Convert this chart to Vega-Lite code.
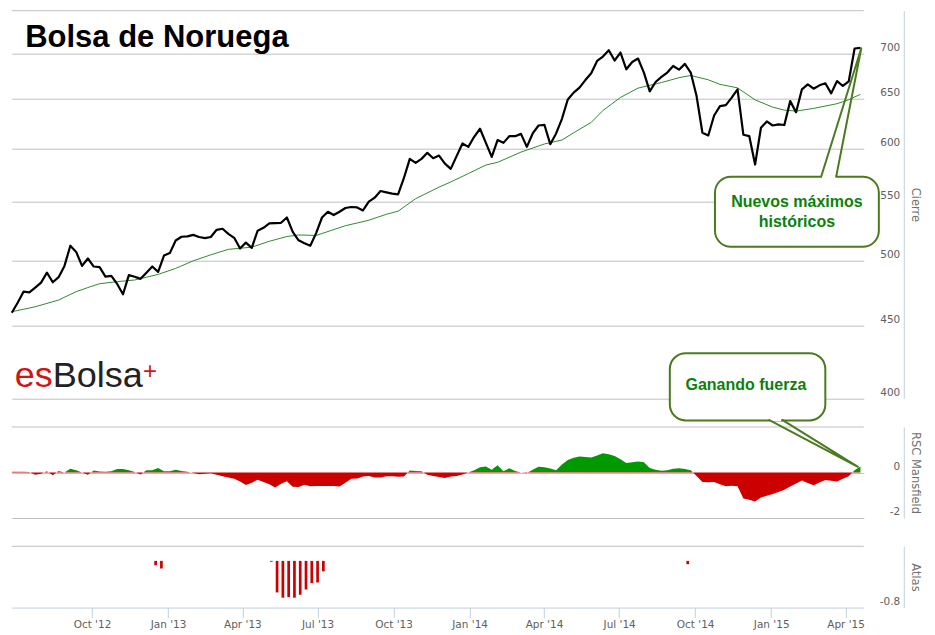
{
  "$schema": "https://vega.github.io/schema/vega-lite/v6.json",
  "background": "white",
  "padding": {"left": 9.8, "top": 9.7, "right": 6, "bottom": 0},
  "spacing": 28.3,
  "bounds": "flush",
  "config": {
    "view": {"stroke": null},
    "axis": {"labelFont": "DejaVu Sans", "titleFont": "DejaVu Sans"}
  },
  "datasets": {
    "price": [
      {"date": "2012-07-02", "close": 459.5, "rsc": 0.03},
      {"date": "2012-07-09", "close": 467.0, "rsc": 0.03},
      {"date": "2012-07-16", "close": 475.5, "rsc": 0.03},
      {"date": "2012-07-23", "close": 475.0, "rsc": 0.02},
      {"date": "2012-07-30", "close": 478.6, "rsc": -0.1},
      {"date": "2012-08-06", "close": 482.5, "rsc": -0.05},
      {"date": "2012-08-13", "close": 490.4, "rsc": 0.06},
      {"date": "2012-08-20", "close": 482.8, "rsc": -0.12},
      {"date": "2012-08-27", "close": 486.8, "rsc": 0.07},
      {"date": "2012-09-03", "close": 495.8, "rsc": 0.0},
      {"date": "2012-09-10", "close": 512.3, "rsc": 0.16},
      {"date": "2012-09-17", "close": 507.2, "rsc": 0.1},
      {"date": "2012-09-24", "close": 495.8, "rsc": 0.0},
      {"date": "2012-10-01", "close": 501.8, "rsc": -0.1},
      {"date": "2012-10-08", "close": 495.3, "rsc": 0.09},
      {"date": "2012-10-15", "close": 494.8, "rsc": 0.04},
      {"date": "2012-10-22", "close": 487.3, "rsc": 0.03},
      {"date": "2012-10-29", "close": 487.8, "rsc": 0.05},
      {"date": "2012-11-05", "close": 481.5, "rsc": 0.15},
      {"date": "2012-11-12", "close": 473.5, "rsc": 0.15},
      {"date": "2012-11-19", "close": 488.4, "rsc": 0.1},
      {"date": "2012-11-26", "close": 487.2, "rsc": 0.02},
      {"date": "2012-12-03", "close": 485.5, "rsc": -0.09},
      {"date": "2012-12-10", "close": 490.4, "rsc": 0.1},
      {"date": "2012-12-17", "close": 495.3, "rsc": 0.1},
      {"date": "2012-12-24", "close": 491.0, "rsc": 0.2},
      {"date": "2012-12-31", "close": 504.2, "rsc": 0.05},
      {"date": "2013-01-07", "close": 506.2, "rsc": 0.06},
      {"date": "2013-01-14", "close": 516.7, "rsc": 0.12},
      {"date": "2013-01-21", "close": 519.8, "rsc": 0.07},
      {"date": "2013-01-28", "close": 520.1, "rsc": 0.03},
      {"date": "2013-02-04", "close": 521.4, "rsc": -0.02},
      {"date": "2013-02-11", "close": 519.6, "rsc": -0.08},
      {"date": "2013-02-18", "close": 518.7, "rsc": -0.06},
      {"date": "2013-02-25", "close": 519.6, "rsc": -0.03},
      {"date": "2013-03-04", "close": 525.7, "rsc": -0.1},
      {"date": "2013-03-11", "close": 526.6, "rsc": -0.17},
      {"date": "2013-03-18", "close": 522.3, "rsc": -0.22},
      {"date": "2013-03-25", "close": 518.9, "rsc": -0.27},
      {"date": "2013-04-01", "close": 510.0, "rsc": -0.4},
      {"date": "2013-04-08", "close": 514.9, "rsc": -0.55},
      {"date": "2013-04-15", "close": 510.5, "rsc": -0.45},
      {"date": "2013-04-22", "close": 524.9, "rsc": -0.32},
      {"date": "2013-04-29", "close": 527.4, "rsc": -0.42},
      {"date": "2013-05-06", "close": 531.2, "rsc": -0.52},
      {"date": "2013-05-13", "close": 531.5, "rsc": -0.66},
      {"date": "2013-05-20", "close": 531.7, "rsc": -0.5},
      {"date": "2013-05-27", "close": 536.3, "rsc": -0.38},
      {"date": "2013-06-03", "close": 524.0, "rsc": -0.63},
      {"date": "2013-06-10", "close": 516.8, "rsc": -0.64},
      {"date": "2013-06-17", "close": 514.3, "rsc": -0.54},
      {"date": "2013-06-24", "close": 512.3, "rsc": -0.6},
      {"date": "2013-07-01", "close": 522.9, "rsc": -0.59},
      {"date": "2013-07-08", "close": 536.3, "rsc": -0.59},
      {"date": "2013-07-15", "close": 541.3, "rsc": -0.59},
      {"date": "2013-07-22", "close": 538.4, "rsc": -0.59},
      {"date": "2013-07-29", "close": 541.3, "rsc": -0.62},
      {"date": "2013-08-05", "close": 544.6, "rsc": -0.45},
      {"date": "2013-08-12", "close": 545.5, "rsc": -0.27},
      {"date": "2013-08-19", "close": 545.1, "rsc": -0.26},
      {"date": "2013-08-26", "close": 542.5, "rsc": -0.18},
      {"date": "2013-09-02", "close": 550.2, "rsc": -0.15},
      {"date": "2013-09-09", "close": 553.8, "rsc": -0.22},
      {"date": "2013-09-16", "close": 559.8, "rsc": -0.22},
      {"date": "2013-09-23", "close": 558.6, "rsc": -0.16},
      {"date": "2013-09-30", "close": 557.4, "rsc": -0.17},
      {"date": "2013-10-07", "close": 556.8, "rsc": -0.19},
      {"date": "2013-10-14", "close": 571.8, "rsc": -0.18},
      {"date": "2013-10-21", "close": 589.8, "rsc": 0.09},
      {"date": "2013-10-28", "close": 586.0, "rsc": 0.07},
      {"date": "2013-11-04", "close": 589.8, "rsc": 0.05},
      {"date": "2013-11-11", "close": 595.6, "rsc": -0.1},
      {"date": "2013-11-18", "close": 590.4, "rsc": -0.15},
      {"date": "2013-11-25", "close": 593.0, "rsc": -0.2},
      {"date": "2013-12-02", "close": 585.3, "rsc": -0.24},
      {"date": "2013-12-09", "close": 580.3, "rsc": -0.18},
      {"date": "2013-12-16", "close": 592.4, "rsc": -0.15},
      {"date": "2013-12-23", "close": 604.7, "rsc": -0.09},
      {"date": "2013-12-30", "close": 601.4, "rsc": 0.0},
      {"date": "2014-01-06", "close": 611.3, "rsc": 0.1},
      {"date": "2014-01-13", "close": 619.3, "rsc": 0.23},
      {"date": "2014-01-20", "close": 605.3, "rsc": 0.26},
      {"date": "2014-01-27", "close": 591.7, "rsc": 0.12},
      {"date": "2014-02-03", "close": 608.0, "rsc": 0.32},
      {"date": "2014-02-10", "close": 605.3, "rsc": 0.06},
      {"date": "2014-02-17", "close": 611.9, "rsc": 0.19},
      {"date": "2014-02-24", "close": 611.9, "rsc": 0.07},
      {"date": "2014-03-03", "close": 614.2, "rsc": 0.0},
      {"date": "2014-03-10", "close": 601.4, "rsc": -0.02},
      {"date": "2014-03-17", "close": 614.6, "rsc": 0.12},
      {"date": "2014-03-24", "close": 622.6, "rsc": 0.25},
      {"date": "2014-03-31", "close": 623.3, "rsc": 0.23},
      {"date": "2014-04-07", "close": 604.0, "rsc": 0.18},
      {"date": "2014-04-14", "close": 614.6, "rsc": 0.1},
      {"date": "2014-04-21", "close": 629.4, "rsc": 0.35},
      {"date": "2014-04-28", "close": 649.5, "rsc": 0.55},
      {"date": "2014-05-05", "close": 656.7, "rsc": 0.65},
      {"date": "2014-05-12", "close": 662.0, "rsc": 0.7},
      {"date": "2014-05-19", "close": 670.2, "rsc": 0.68},
      {"date": "2014-05-26", "close": 677.6, "rsc": 0.66},
      {"date": "2014-06-02", "close": 691.3, "rsc": 0.75},
      {"date": "2014-06-09", "close": 696.2, "rsc": 0.85},
      {"date": "2014-06-16", "close": 703.4, "rsc": 0.8},
      {"date": "2014-06-23", "close": 691.8, "rsc": 0.72},
      {"date": "2014-06-30", "close": 700.8, "rsc": 0.58},
      {"date": "2014-07-07", "close": 682.0, "rsc": 0.42},
      {"date": "2014-07-14", "close": 690.1, "rsc": 0.45},
      {"date": "2014-07-21", "close": 694.0, "rsc": 0.48},
      {"date": "2014-07-28", "close": 678.4, "rsc": 0.45},
      {"date": "2014-08-04", "close": 658.0, "rsc": 0.2},
      {"date": "2014-08-11", "close": 668.1, "rsc": 0.12},
      {"date": "2014-08-18", "close": 673.6, "rsc": 0.08},
      {"date": "2014-08-25", "close": 678.4, "rsc": 0.1},
      {"date": "2014-09-01", "close": 685.7, "rsc": 0.16},
      {"date": "2014-09-08", "close": 681.6, "rsc": 0.19},
      {"date": "2014-09-15", "close": 688.0, "rsc": 0.15},
      {"date": "2014-09-22", "close": 678.4, "rsc": 0.1},
      {"date": "2014-09-29", "close": 653.0, "rsc": -0.15},
      {"date": "2014-10-06", "close": 615.3, "rsc": -0.42},
      {"date": "2014-10-13", "close": 612.6, "rsc": -0.43},
      {"date": "2014-10-20", "close": 632.8, "rsc": -0.42},
      {"date": "2014-10-27", "close": 642.5, "rsc": -0.52},
      {"date": "2014-11-03", "close": 643.5, "rsc": -0.61},
      {"date": "2014-11-10", "close": 651.4, "rsc": -0.58},
      {"date": "2014-11-17", "close": 660.2, "rsc": -0.6},
      {"date": "2014-11-24", "close": 613.3, "rsc": -1.14},
      {"date": "2014-12-01", "close": 612.0, "rsc": -1.2},
      {"date": "2014-12-08", "close": 584.4, "rsc": -1.27},
      {"date": "2014-12-15", "close": 620.3, "rsc": -1.1},
      {"date": "2014-12-22", "close": 626.7, "rsc": -1.02},
      {"date": "2014-12-29", "close": 622.6, "rsc": -0.95},
      {"date": "2015-01-05", "close": 623.8, "rsc": -0.86},
      {"date": "2015-01-12", "close": 623.1, "rsc": -0.76},
      {"date": "2015-01-19", "close": 647.7, "rsc": -0.62},
      {"date": "2015-01-26", "close": 636.2, "rsc": -0.48},
      {"date": "2015-02-02", "close": 660.2, "rsc": -0.35},
      {"date": "2015-02-09", "close": 665.5, "rsc": -0.46},
      {"date": "2015-02-16", "close": 660.9, "rsc": -0.56},
      {"date": "2015-02-23", "close": 664.5, "rsc": -0.44},
      {"date": "2015-03-02", "close": 666.7, "rsc": -0.33},
      {"date": "2015-03-09", "close": 655.9, "rsc": -0.36},
      {"date": "2015-03-16", "close": 669.1, "rsc": -0.4},
      {"date": "2015-03-23", "close": 663.8, "rsc": -0.28},
      {"date": "2015-03-30", "close": 668.8, "rsc": -0.16},
      {"date": "2015-04-06", "close": 705.4, "rsc": 0.1},
      {"date": "2015-04-13", "close": 706.1, "rsc": 0.26}
    ],
    "ma": [
      {"date": "2012-07-02", "ma": 460.3},
      {"date": "2012-07-30", "ma": 464.0},
      {"date": "2012-08-27", "ma": 469.1},
      {"date": "2012-09-17", "ma": 475.5},
      {"date": "2012-10-01", "ma": 478.7},
      {"date": "2012-10-15", "ma": 481.7},
      {"date": "2012-11-05", "ma": 483.3},
      {"date": "2012-11-26", "ma": 484.6},
      {"date": "2012-12-10", "ma": 486.8},
      {"date": "2012-12-24", "ma": 489.0},
      {"date": "2013-01-14", "ma": 493.8},
      {"date": "2013-02-04", "ma": 499.9},
      {"date": "2013-02-25", "ma": 504.8},
      {"date": "2013-03-18", "ma": 509.3},
      {"date": "2013-04-15", "ma": 511.1},
      {"date": "2013-05-06", "ma": 516.0},
      {"date": "2013-05-27", "ma": 520.0},
      {"date": "2013-06-10", "ma": 521.3},
      {"date": "2013-07-01", "ma": 520.9},
      {"date": "2013-08-05", "ma": 529.2},
      {"date": "2013-09-02", "ma": 533.9},
      {"date": "2013-09-23", "ma": 539.1},
      {"date": "2013-10-07", "ma": 541.8},
      {"date": "2013-10-28", "ma": 552.9},
      {"date": "2013-11-25", "ma": 563.4},
      {"date": "2013-12-09", "ma": 568.1},
      {"date": "2013-12-30", "ma": 575.9},
      {"date": "2014-01-20", "ma": 583.9},
      {"date": "2014-02-03", "ma": 586.5},
      {"date": "2014-03-03", "ma": 596.3},
      {"date": "2014-03-31", "ma": 604.2},
      {"date": "2014-04-21", "ma": 608.1},
      {"date": "2014-05-05", "ma": 615.3},
      {"date": "2014-05-26", "ma": 625.7},
      {"date": "2014-06-09", "ma": 637.9},
      {"date": "2014-06-30", "ma": 651.6},
      {"date": "2014-07-21", "ma": 661.5},
      {"date": "2014-08-18", "ma": 667.5},
      {"date": "2014-09-08", "ma": 672.8},
      {"date": "2014-09-22", "ma": 675.2},
      {"date": "2014-10-13", "ma": 670.5},
      {"date": "2014-10-27", "ma": 665.5},
      {"date": "2014-11-17", "ma": 661.8},
      {"date": "2014-12-08", "ma": 649.0},
      {"date": "2014-12-29", "ma": 641.4},
      {"date": "2015-01-12", "ma": 638.3},
      {"date": "2015-01-26", "ma": 637.3},
      {"date": "2015-02-16", "ma": 640.1},
      {"date": "2015-03-16", "ma": 645.0},
      {"date": "2015-03-30", "ma": 649.2},
      {"date": "2015-04-13", "ma": 654.9}
    ],
    "atlas": [
      {"date": "2012-12-17", "atlas": -0.074},
      {"date": "2012-12-24", "atlas": -0.13},
      {"date": "2013-05-06", "atlas": -0.015},
      {"date": "2013-05-13", "atlas": -0.54},
      {"date": "2013-05-20", "atlas": -0.63},
      {"date": "2013-05-27", "atlas": -0.62},
      {"date": "2013-06-03", "atlas": -0.63},
      {"date": "2013-06-10", "atlas": -0.58},
      {"date": "2013-06-17", "atlas": -0.49},
      {"date": "2013-06-24", "atlas": -0.38},
      {"date": "2013-07-01", "atlas": -0.37},
      {"date": "2013-07-08", "atlas": -0.18},
      {"date": "2014-09-22", "atlas": -0.057}
    ]
  },
  "vconcat": [
    {
      "width": 852,
      "height": 387.6,
      "layer": [
        {
          "data": {"values": [{"level": 750}]},
          "mark": {"type": "rule", "color": "#C0C0C0", "strokeWidth": 1},
          "encoding": {
            "y": {"field": "level", "type": "quantitative", "scale": {"type": "log", "domain": [400, 750], "nice": false, "zero": false}}
          }
        },
        {
          "data": {"name": "ma"},
          "mark": {"type": "line", "color": "#2E8B2E", "strokeWidth": 1, "strokeJoin": "round"},
          "encoding": {
            "x": {"field": "date", "type": "temporal", "scale": {"domain": [{"year": 2012, "month": 7, "date": 2}, {"year": 2015, "month": 4, "date": 17}]}, "axis": null},
            "y": {"field": "ma", "type": "quantitative", "scale": {"type": "log", "domain": [400, 750], "nice": false, "zero": false}}
          }
        },
        {
          "data": {"name": "price"},
          "mark": {"type": "line", "color": "#000000", "strokeWidth": 2.2, "strokeJoin": "round"},
          "encoding": {
            "x": {"field": "date", "type": "temporal", "scale": {"domain": [{"year": 2012, "month": 7, "date": 2}, {"year": 2015, "month": 4, "date": 17}]}, "axis": null},
            "y": {
              "field": "close", "type": "quantitative",
              "scale": {"type": "log", "domain": [400, 750], "nice": false, "zero": false},
              "axis": {
                "orient": "right", "offset": 40, "values": [400, 450, 500, 550, 600, 650, 700],
                "labelExpr": "'' + datum.value", "title": "Cierre",
                "grid": true, "gridColor": "#C0C0C0", "ticks": false, "tickSize": 0,
                "domainColor": "#C0D0E0", "labelAlign": "right", "labelBaseline": "middle",
                "labelPadding": -4, "labelOffset": -6, "labelColor": "#606060", "labelFontSize": 10.5,
                "titleColor": "#707070", "titleFontSize": 11.5, "titleFontWeight": "normal", "titlePadding": 6
              }
            }
          }
        },
        {
          "data": {"values": [{"date": "2012-07-18", "value": 707.2, "label": "Bolsa de Noruega"}]},
          "mark": {"type": "text", "font": "Liberation Sans", "fontWeight": "bold", "fontSize": 31, "align": "left", "baseline": "alphabetic", "color": "#000000"},
          "encoding": {
            "x": {"field": "date", "type": "temporal", "scale": {"domain": [{"year": 2012, "month": 7, "date": 2}, {"year": 2015, "month": 4, "date": 17}]}, "axis": null},
            "y": {"field": "value", "type": "quantitative", "scale": {"type": "log", "domain": [400, 750], "nice": false, "zero": false}},
            "text": {"field": "label"}
          }
        },
        {
          "data": {"values": [{"date": "2012-08-20", "value": 407.4, "label": "es"}]},
          "mark": {"type": "text", "font": "Liberation Sans", "fontSize": 36, "align": "right", "baseline": "alphabetic", "color": "#D01515"},
          "encoding": {
            "x": {"field": "date", "type": "temporal", "scale": {"domain": [{"year": 2012, "month": 7, "date": 2}, {"year": 2015, "month": 4, "date": 17}]}, "axis": null},
            "y": {"field": "value", "type": "quantitative", "scale": {"type": "log", "domain": [400, 750], "nice": false, "zero": false}},
            "text": {"field": "label"}
          }
        },
        {
          "data": {"values": [{"date": "2012-08-20", "value": 407.4, "label": "Bolsa"}]},
          "mark": {"type": "text", "font": "Liberation Sans", "fontSize": 36, "align": "left", "baseline": "alphabetic", "color": "#222222"},
          "encoding": {
            "x": {"field": "date", "type": "temporal", "scale": {"domain": [{"year": 2012, "month": 7, "date": 2}, {"year": 2015, "month": 4, "date": 17}]}, "axis": null},
            "y": {"field": "value", "type": "quantitative", "scale": {"type": "log", "domain": [400, 750], "nice": false, "zero": false}},
            "text": {"field": "label"}
          }
        },
        {
          "data": {"values": [{"date": "2012-12-06", "value": 412.6, "label": "+"}]},
          "mark": {"type": "text", "font": "Liberation Sans", "fontSize": 24, "align": "left", "baseline": "alphabetic", "color": "#D01515"},
          "encoding": {
            "x": {"field": "date", "type": "temporal", "scale": {"domain": [{"year": 2012, "month": 7, "date": 2}, {"year": 2015, "month": 4, "date": 17}]}, "axis": null},
            "y": {"field": "value", "type": "quantitative", "scale": {"type": "log", "domain": [400, 750], "nice": false, "zero": false}},
            "text": {"field": "label"}
          }
        },
        {
          "data": {"values": [{"date": "2014-10-21", "date2": "2015-05-05", "value": 573.0, "value2": 511.4}]},
          "mark": {"type": "rect", "fill": "#FFFFFF", "stroke": "#4B7A1F", "strokeWidth": 2, "cornerRadius": 16},
          "encoding": {
            "x": {"field": "date", "type": "temporal", "scale": {"domain": [{"year": 2012, "month": 7, "date": 2}, {"year": 2015, "month": 4, "date": 17}]}, "axis": null},
            "x2": {"field": "date2"},
            "y": {"field": "value", "type": "quantitative", "scale": {"type": "log", "domain": [400, 750], "nice": false, "zero": false}},
            "y2": {"field": "value2"}
          }
        },
        {
          "data": {"values": [{"date": "2015-02-26", "date2": "2015-03-14", "value": 573.0}]},
          "mark": {"type": "rule", "color": "#FFFFFF", "strokeWidth": 3},
          "encoding": {
            "x": {"field": "date", "type": "temporal", "scale": {"domain": [{"year": 2012, "month": 7, "date": 2}, {"year": 2015, "month": 4, "date": 17}]}, "axis": null},
            "x2": {"field": "date2"},
            "y": {"field": "value", "type": "quantitative", "scale": {"type": "log", "domain": [400, 750], "nice": false, "zero": false}}
          }
        },
        {
          "data": {"values": [
            {"date": "2015-02-25", "value": 573.0, "k": 1},
            {"date": "2015-04-14", "value": 705.7, "k": 2},
            {"date": "2015-03-15", "value": 573.0, "k": 3}
          ]},
          "mark": {"type": "line", "color": "#4B7A1F", "strokeWidth": 2, "strokeJoin": "round"},
          "encoding": {
            "x": {"field": "date", "type": "temporal", "scale": {"domain": [{"year": 2012, "month": 7, "date": 2}, {"year": 2015, "month": 4, "date": 17}]}, "axis": null},
            "y": {"field": "value", "type": "quantitative", "scale": {"type": "log", "domain": [400, 750], "nice": false, "zero": false}},
            "order": {"field": "k"}
          }
        },
        {
          "data": {"values": [{"date": "2015-01-27", "value": 550.2, "label": "Nuevos máximos\nhistóricos"}]},
          "mark": {"type": "text", "font": "Liberation Sans", "fontWeight": "bold", "fontSize": 16, "align": "center", "baseline": "middle", "lineBreak": "\n", "lineHeight": 20, "color": "#0C800C"},
          "encoding": {
            "x": {"field": "date", "type": "temporal", "scale": {"domain": [{"year": 2012, "month": 7, "date": 2}, {"year": 2015, "month": 4, "date": 17}]}, "axis": null},
            "y": {"field": "value", "type": "quantitative", "scale": {"type": "log", "domain": [400, 750], "nice": false, "zero": false}},
            "text": {"field": "label"}
          }
        },
        {
          "data": {"values": [{"date": "2014-08-28", "date2": "2015-03-02", "value": 430.4, "value2": 385.9}]},
          "mark": {"type": "rect", "fill": "#FFFFFF", "stroke": "#4B7A1F", "strokeWidth": 2, "cornerRadius": 16},
          "encoding": {
            "x": {"field": "date", "type": "temporal", "scale": {"domain": [{"year": 2012, "month": 7, "date": 2}, {"year": 2015, "month": 4, "date": 17}]}, "axis": null},
            "x2": {"field": "date2"},
            "y": {"field": "value", "type": "quantitative", "scale": {"type": "log", "domain": [400, 750], "nice": false, "zero": false}},
            "y2": {"field": "value2"}
          }
        },
        {
          "data": {"values": [{"date": "2014-11-27", "value": 408.6, "label": "Ganando fuerza"}]},
          "mark": {"type": "text", "font": "Liberation Sans", "fontWeight": "bold", "fontSize": 16, "align": "center", "baseline": "middle", "color": "#0C800C"},
          "encoding": {
            "x": {"field": "date", "type": "temporal", "scale": {"domain": [{"year": 2012, "month": 7, "date": 2}, {"year": 2015, "month": 4, "date": 17}]}, "axis": null},
            "y": {"field": "value", "type": "quantitative", "scale": {"type": "log", "domain": [400, 750], "nice": false, "zero": false}},
            "text": {"field": "label"}
          }
        }
      ]
    },
    {
      "width": 852,
      "height": 91,
      "layer": [
        {
          "data": {"values": [{"level": 2}]},
          "mark": {"type": "rule", "color": "#C0C0C0", "strokeWidth": 1},
          "encoding": {
            "y": {"field": "level", "type": "quantitative", "scale": {"domain": [-2, 2], "nice": false, "zero": false}}
          }
        },
        {
          "data": {"name": "price"},
          "mark": {
            "type": "area",
            "fill": {
              "gradient": "linear", "x1": 0, "y1": 0, "x2": 0, "y2": 1,
              "stops": [
                {"offset": 0, "color": "#009900"},
                {"offset": 0.4009, "color": "#009900"},
                {"offset": 0.4009, "color": "#CC0000"},
                {"offset": 1, "color": "#CC0000"}
              ]
            }
          },
          "encoding": {
            "x": {"field": "date", "type": "temporal", "scale": {"domain": [{"year": 2012, "month": 7, "date": 2}, {"year": 2015, "month": 4, "date": 17}]}, "axis": null},
            "y": {
              "field": "rsc", "type": "quantitative", "stack": null,
              "scale": {"domain": [-2, 2], "nice": false, "zero": false},
              "axis": {
                "orient": "right", "offset": 40, "values": [-2, 0],
                "labelExpr": "'' + datum.value", "title": "RSC Mansfield",
                "grid": true, "gridColor": "#C0C0C0", "ticks": false, "tickSize": 0,
                "domainColor": "#C0D0E0", "labelAlign": "right", "labelBaseline": "middle",
                "labelPadding": -4, "labelOffset": -6, "labelColor": "#606060", "labelFontSize": 10.5,
                "titleColor": "#707070", "titleFontSize": 11.5, "titleFontWeight": "normal", "titlePadding": 6
              }
            },
            "y2": {"datum": 0}
          }
        },
        {
          "data": {"values": [{"date": "2014-12-25", "date2": "2015-01-08", "value": 2.32}]},
          "mark": {"type": "rule", "color": "#FFFFFF", "strokeWidth": 3},
          "encoding": {
            "x": {"field": "date", "type": "temporal", "scale": {"domain": [{"year": 2012, "month": 7, "date": 2}, {"year": 2015, "month": 4, "date": 17}]}, "axis": null},
            "x2": {"field": "date2"},
            "y": {"field": "value", "type": "quantitative", "scale": {"domain": [-2, 2], "nice": false, "zero": false}}
          }
        },
        {
          "data": {"values": [
            {"date": "2014-12-24", "value": 2.32, "k": 1},
            {"date": "2015-04-10", "value": 0.25, "k": 2},
            {"date": "2015-01-09", "value": 2.32, "k": 3}
          ]},
          "mark": {"type": "line", "color": "#4B7A1F", "strokeWidth": 2, "strokeJoin": "round"},
          "encoding": {
            "x": {"field": "date", "type": "temporal", "scale": {"domain": [{"year": 2012, "month": 7, "date": 2}, {"year": 2015, "month": 4, "date": 17}]}, "axis": null},
            "y": {"field": "value", "type": "quantitative", "scale": {"domain": [-2, 2], "nice": false, "zero": false}},
            "order": {"field": "k"}
          }
        }
      ]
    },
    {
      "width": 852,
      "height": 61.3,
      "layer": [
        {
          "data": {"values": [{"level": 0.25}]},
          "mark": {"type": "rule", "color": "#C0C0C0", "strokeWidth": 1},
          "encoding": {
            "y": {"field": "level", "type": "quantitative", "scale": {"domain": [-0.8, 0.25], "nice": false, "zero": false}}
          }
        },
        {
          "data": {"name": "atlas"},
          "mark": {"type": "bar", "color": "#CC0000", "size": 2.7},
          "encoding": {
            "x": {
              "field": "date", "type": "temporal",
              "scale": {"domain": [{"year": 2012, "month": 7, "date": 2}, {"year": 2015, "month": 4, "date": 17}]},
              "axis": {
                "values": [
                  {"year": 2012, "month": 10, "date": 1}, {"year": 2013, "month": 1, "date": 1},
                  {"year": 2013, "month": 4, "date": 1}, {"year": 2013, "month": 7, "date": 1},
                  {"year": 2013, "month": 10, "date": 1}, {"year": 2014, "month": 1, "date": 1},
                  {"year": 2014, "month": 4, "date": 1}, {"year": 2014, "month": 7, "date": 1},
                  {"year": 2014, "month": 10, "date": 1}, {"year": 2015, "month": 1, "date": 1},
                  {"year": 2015, "month": 4, "date": 1}
                ],
                "format": "%b '%y", "title": null, "grid": false,
                "domainColor": "#C0D0E0", "tickColor": "#C0D0E0", "tickSize": 10,
                "labelColor": "#606060", "labelFontSize": 10.5, "labelPadding": 2,
                "labelFlush": false, "labelOverlap": false
              }
            },
            "y": {
              "field": "atlas", "type": "quantitative",
              "scale": {"domain": [-0.8, 0.25], "nice": false, "zero": false},
              "axis": {
                "orient": "right", "offset": 40, "values": [-0.8],
                "labelExpr": "'' + datum.value", "title": "Atlas",
                "grid": false, "ticks": false, "tickSize": 0,
                "domainColor": "#C0D0E0", "labelAlign": "right", "labelBaseline": "middle",
                "labelPadding": -4, "labelOffset": -6, "labelColor": "#606060", "labelFontSize": 10.5,
                "titleColor": "#707070", "titleFontSize": 11.5, "titleFontWeight": "normal", "titlePadding": 6
              }
            }
          }
        }
      ]
    }
  ]
}
